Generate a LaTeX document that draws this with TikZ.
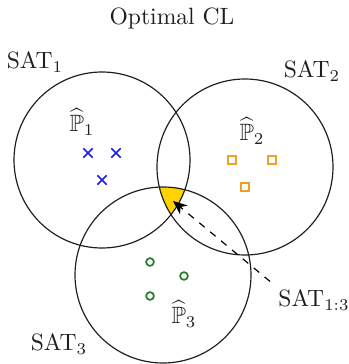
\documentclass[tikz,border=0pt]{standalone}
\usepackage{amsmath}
\usepackage{amssymb}
\usepackage{xcolor}
\usetikzlibrary{arrows.meta, shapes.misc}
\definecolor{ink}{HTML}{1F1F1F}
\definecolor{goldA}{HTML}{FFD200}
\definecolor{orangeB}{HTML}{F0A020}
\definecolor{blueB}{HTML}{1A1AF5}
\definecolor{greenB}{HTML}{1F7A1F}
\tikzset{
  lbl/.style={font=\normalsize, text=ink},
  satcirc/.style={draw=ink, line width=0.5pt},
  xmark/.style={cross out, draw=blueB, line width=0.6pt, minimum size=3.4pt, inner sep=0pt},
  sqmark/.style={rectangle, draw=orangeB, line width=0.7pt, minimum size=3.2pt, inner sep=0pt},
  omark/.style={circle, draw=greenB, line width=0.7pt, minimum size=3.3pt, inner sep=0pt}
}

\begin{document}
\begin{tikzpicture}[x=0.424pt,y=0.424pt]
\useasboundingbox (0,0) rectangle (349,364);

\node[lbl] (title) at (172,346) {Optimal CL};

% yellow common region
\begin{scope}
\clip (102,204) circle (88);
\clip (245,197) circle (88);
\fill[goldA] (163,89) circle (88);
\end{scope}

\draw[satcirc] (102,204) circle (88);
\draw[satcirc] (245,197) circle (88);
\draw[satcirc] (163,89) circle (88);

\node[lbl] (sat1) at (35,302) {SAT$_1$};
\node[lbl] (sat2) at (312,293) {SAT$_2$};
\node[lbl] (sat3) at (59,20) {SAT$_3$};
\node[lbl] (sat13) at (314,64) {SAT$_{1:3}$};

\node[lbl] (p1) at (82,242) {$\widehat{\mathbb{P}}_1$};
\node[lbl] (p2) at (252,233) {$\widehat{\mathbb{P}}_2$};
\node[lbl] (p3) at (184,50) {$\widehat{\mathbb{P}}_3$};

\node[xmark] (x1) at (88,211) {};
\node[xmark] (x2) at (116,211) {};
\node[xmark] (x3) at (102,184) {};

\node[sqmark] (s1) at (232,204) {};
\node[sqmark] (s2) at (272,204) {};
\node[sqmark] (s3) at (245,177) {};

\node[omark] (o1) at (150,102) {};
\node[omark] (o2) at (184,88) {};
\node[omark] (o3) at (150,68) {};

\coordinate (tip) at (173,163);
\draw[dashed, -{Stealth[length=6pt,width=5pt]}, line width=0.5pt] (sat13.north west) -- (tip);

\end{tikzpicture}
\end{document}
